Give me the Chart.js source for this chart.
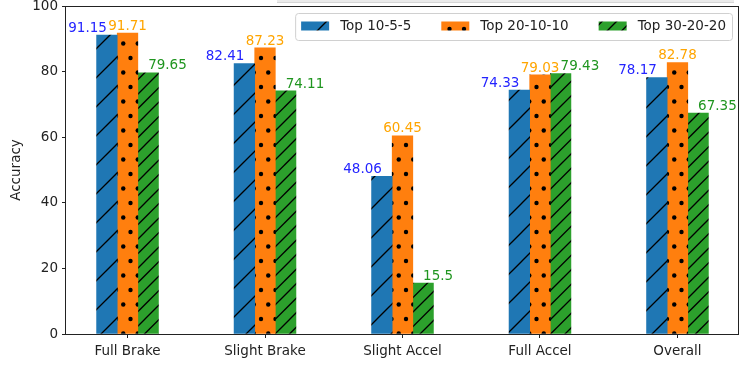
<!DOCTYPE html>
<html>
<head>
<meta charset="utf-8">
<script src="https://cdn.jsdelivr.net/npm/chart.js@4.4.1/dist/chart.umd.min.js"></script>
<style>
  html, body { margin: 0; padding: 0; background: #ffffff; }
  canvas { display: block; }
</style>
</head>
<body>
<canvas id="c" width="747" height="367"></canvas>
<script>
// ---- data ----
const categories = ['Full Brake', 'Slight Brake', 'Slight Accel', 'Full Accel', 'Overall'];
const seriesNames = ['Top 10-5-5', 'Top 20-10-10', 'Top 30-20-20'];
const top10_5_5 = [91.15, 82.41, 48.06, 74.33, 78.17];
const top20_10_10 = [91.71, 87.23, 60.45, 79.03, 82.78];
const top30_20_20 = [79.65, 74.11, 15.5, 79.43, 67.35];
const yTicks = [0, 20, 40, 60, 80, 100];

// ---- styling ----
const FONT = 'DejaVu Sans';
const FS = 13.5;
const BAR_W = 0.15;
const fills = ['#1f77b4', '#ff7f0e', '#2ca02c'];
const labelColors = ['#2424ff', '#ffa500', '#1f951f'];
const labelAlign = ['right', 'center', 'left'];

function makePattern(kind, bg) {
  const s = 29;
  const c = document.createElement('canvas');
  c.width = s; c.height = s;
  const g = c.getContext('2d');
  g.fillStyle = bg;
  g.fillRect(0, 0, s, s);
  g.strokeStyle = '#000';
  g.fillStyle = '#000';
  g.lineWidth = 1.3;
  if (kind === 'slash' || kind === 'dslash') {
    const step = kind === 'slash' ? s : s / 2;
    for (let k = 0; k <= 2 * s + 0.01; k += step) {
      // line x + y = k
      g.beginPath();
      g.moveTo(-2, k + 2);
      g.lineTo(k + 2, -2);
      g.stroke();
    }
  } else {
    const r = 2.2;
    const pts = [[0,0],[s/2,0],[s,0],[0,s],[s/2,s],[s,s],[s/4,s/2],[3*s/4,s/2]];
    pts.forEach(p => { g.beginPath(); g.arc(p[0], p[1], r, 0, Math.PI * 2); g.fill(); });
  }
  const ctx = document.getElementById('c').getContext('2d');
  return ctx.createPattern(c, 'repeat');
}

const patterns = [
  makePattern('slash', fills[0]),
  makePattern('dots', fills[1]),
  makePattern('dslash', fills[2])
];

const seriesValues = [top10_5_5, top20_10_10, top30_20_20];

const datasets = seriesValues.map((vals, si) => ({
  label: seriesNames[si],
  data: vals.map((v, i) => ({ x: i + (si - 1) * BAR_W, y: v })),
  backgroundColor: patterns[si],
  borderWidth: 0,
  barThickness: 20.6,
  grouped: false
}));

const framePlugin = {
  id: 'frame',
  afterDraw(chart) {
    const { ctx, chartArea: a } = chart;
    ctx.save();
    // faint line artifact at top
    ctx.fillStyle = '#ebebeb';
    ctx.fillRect(277, 0, 457, 2);
    ctx.fillStyle = '#d6d6d6';
    ctx.fillRect(277, 2, 457, 1);
    ctx.strokeStyle = '#222';
    ctx.lineWidth = 1;
    const l = Math.round(a.left) - 0.5, t = Math.round(a.top) + 0.5;
    const r = Math.round(a.right) - 0.5, b = Math.round(a.bottom) + 0.5;
    ctx.strokeRect(l, t, r - l, b - t);
    ctx.restore();
  }
};

const labelPlugin = {
  id: 'valueLabels',
  afterDatasetsDraw(chart) {
    const ctx = chart.ctx;
    ctx.save();
    ctx.font = FS + 'px "' + FONT + '"';
    ctx.textBaseline = 'bottom';
    chart.data.datasets.forEach((ds, si) => {
      const meta = chart.getDatasetMeta(si);
      meta.data.forEach((bar, j) => {
        ctx.fillStyle = labelColors[si];
        ctx.textAlign = labelAlign[si];
        ctx.fillText(String(seriesValues[si][j]), bar.x, bar.y);
      });
    });
    ctx.restore();
  }
};

const legendPlugin = {
  id: 'innerLegend',
  afterDraw(chart) {
    const ctx = chart.ctx;
    const a = chart.chartArea;
    ctx.save();
    ctx.font = FS + 'px "' + FONT + '"';
    const pad = 6, handleW = 28, handleH = 9, gap = 11, colGap = 30;
    const widths = seriesNames.map(n => ctx.measureText(n).width);
    let total = pad * 2 + seriesNames.length * (handleW + gap) + widths.reduce((s, w) => s + w, 0) + colGap * (seriesNames.length - 1);
    const right = a.right - 7;
    const top = a.top + 7;
    const h = 27;
    const left = right - total;
    // box
    ctx.fillStyle = 'rgba(255,255,255,0.8)';
    ctx.strokeStyle = '#d0d0d0';
    ctx.lineWidth = 1;
    ctx.beginPath();
    ctx.roundRect(left + 0.5, top + 0.5, total, h, 3);
    ctx.fill();
    ctx.stroke();
    let x = left + pad;
    const cy = top + h / 2;
    seriesNames.forEach((n, i) => {
      ctx.fillStyle = patterns[i];
      ctx.fillRect(x, cy - handleH / 2 - 0.5, handleW, handleH);
      x += handleW + gap;
      ctx.fillStyle = '#222';
      ctx.textAlign = 'left';
      ctx.textBaseline = 'middle';
      ctx.fillText(n, x, cy);
      x += widths[i] + colGap;
    });
    ctx.restore();
  }
};

new Chart(document.getElementById('c'), {
  type: 'bar',
  data: { datasets },
  options: {
    responsive: false,
    devicePixelRatio: 1,
    animation: false,
    layout: { padding: { left: 0, top: 6, right: 8, bottom: 0 } },
    plugins: { legend: { display: false }, tooltip: { enabled: false } },
    scales: {
      x: {
        type: 'linear',
        min: -0.4475,
        max: 4.4475,
        offset: false,
        afterBuildTicks(scale) { scale.ticks = categories.map((_, i) => ({ value: i })); },
        afterFit(scale) { scale.height = 33; scale.paddingLeft = 0; scale.paddingRight = 0; },
        ticks: {
          autoSkip: false,
          maxRotation: 0,
          padding: 5,
          color: '#222',
          font: { family: FONT, size: FS },
          callback: (v) => categories[v]
        },
        grid: { display: true, drawOnChartArea: false, drawTicks: true, tickLength: 4, color: '#222', offset: false },
        border: { display: false }
      },
      y: {
        type: 'linear',
        min: 0,
        max: 100,
        afterBuildTicks(scale) { scale.ticks = yTicks.map(v => ({ value: v })); },
        afterFit(scale) { scale.width = 66; scale.paddingTop = 0; scale.paddingBottom = 0; },
        ticks: {
          padding: 4,
          color: '#222',
          font: { family: FONT, size: FS }
        },
        title: {
          display: true,
          text: 'Accuracy',
          color: '#222',
          font: { family: FONT, size: FS },
          padding: { top: 8, bottom: 0 }
        },
        grid: { display: true, drawOnChartArea: false, drawTicks: true, tickLength: 4, color: '#222' },
        border: { display: false }
      }
    }
  },
  plugins: [labelPlugin, framePlugin, legendPlugin]
});
</script>
</body>
</html>
